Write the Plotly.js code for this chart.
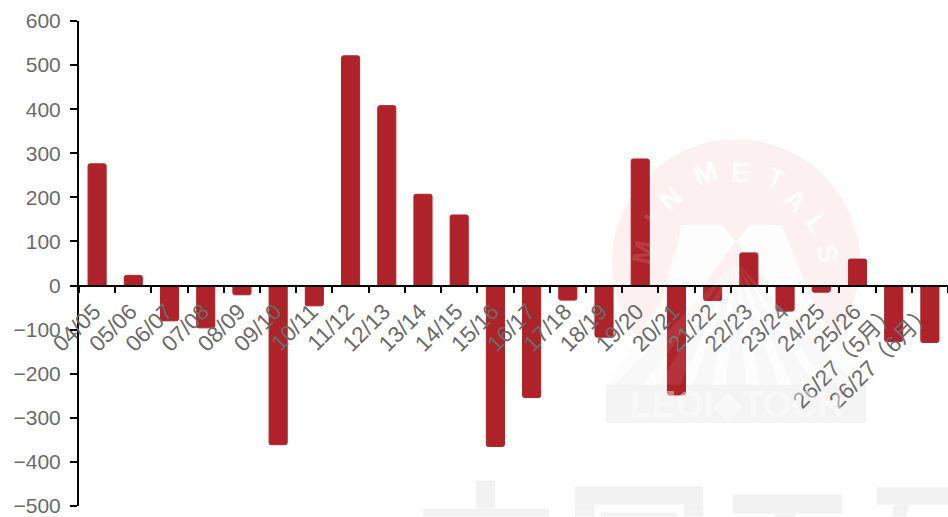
<!DOCTYPE html>
<html><head><meta charset="utf-8">
<script src="https://cdn.plot.ly/plotly-3.0.1.min.js"></script>
<style>html,body{margin:0;padding:0;background:#fff}</style></head>
<body><div id="chart" style="width:948px;height:517px"></div>
<script>
const seasons = ["04/05","05/06","06/07","07/08","08/09","09/10","10/11","11/12","12/13","13/14","14/15","15/16","16/17","17/18","18/19","19/20","20/21","21/22","22/23","23/24","24/25","25/26","26/27（5月）","26/27（6月）"];
const balance = [276,23,-80,-96,-21,-361,-46,521,408,207,160,-365,-254,-33,-117,287,-248,-34,74,-58,-15,60,-127,-129];
const yTicks = [600,500,400,300,200,100,0,-100,-200,-300,-400,-500];
const W=948,H=517,L=79,T=20.5,B=10.5;
const PW=W-L,PH=H-T-B;
const px=x=>(x-L)/PW, py=y=>(H-B-y)/PH;
const base={xref:'paper',yref:'paper',line:{width:0}};
const rect=(x0,y0,x1,y1,c,layer)=>({...base,type:'rect',x0:px(x0),x1:px(x1),y0:py(y1),y1:py(y0),fillcolor:c,layer:layer||'below'});
const poly=(pts,c,layer)=>({...base,type:'path',path:'M'+pts.map(p=>px(p[0])+' '+py(p[1])).join(' L')+' Z',fillcolor:c,layer:layer||'below'});
const pale='#f2f2f2', pink='#fcf0f0';
const rays=[[-122,-92],[-78,-56],[-42,-24],[-10,10],[24,42],[56,78],[92,122]];
const shapes=[
 {...base,type:'circle',x0:px(612),x1:px(860),y0:py(386),y1:py(139),fillcolor:pink,layer:'below'},
 poly([[606,385],[736,280],[866,385],[866,423],[606,423]],'#fbfbfb'),
 poly([[662,300],[682,225],[722,225],[736,241],[750,225],[782,225],[812,300],[866,385],[606,385]],'#fdfdfd'),
 poly([[736,241],[704,285],[768,285]],pink),
 ...rays.map(r=>poly([[736,262],[736+r[0],385],[736+r[1],385]],'#f8f8f8')),
 ...rays.map(r=>poly([[736,262],[736+r[0],385],[736+r[1],385]],'rgba(255,255,255,0.08)','above')),
 rect(606,385,866,423,'#f4f4f4'),
 rect(423,509,549,517,pale),rect(476,481,495,509,pale),
 rect(575,487,703,505,pale),rect(575,505,594,517,pale),rect(684,505,703,517,pale),rect(601,513,677,517,pale),
 rect(733,495,842,514,pale),rect(775,514,795,517,pale),
 rect(877,488,948,505,pale),poly([[894,505],[910,505],[906,517],[892,517]],pale)
];
const ring=[["M",-78,643,253],["I",-62,653,220],["N",-42,670,198],["M",-20,705,173],["E",2,740,172],["T",22,775,178],["A",40,795,200],["L",58,817,223],["S",78,828,253]];
const annotations=ring.map((r,i)=>({text:'<b>'+r[0]+'</b>',xref:'paper',yref:'paper',xanchor:'center',yanchor:'middle',x:px(r[2]),y:py(r[3]),textangle:r[1],showarrow:false,font:{family:'Liberation Sans',size:28,color:i<2?'rgba(255,255,255,0.15)':'rgba(255,255,255,0.9)'}}));
annotations.push({text:'<b>LEOI◆TOCH</b>',xref:'paper',yref:'paper',xanchor:'center',yanchor:'middle',x:px(736),y:py(405),showarrow:false,font:{family:'Liberation Sans',size:36,color:'rgba(255,255,255,0.45)'}});
Plotly.newPlot('chart',[{type:'bar',x:seasons,y:balance,marker:{color:'#ae2229',cornerradius:2,line:{color:'#ae2229',width:1}},width:0.5,hoverinfo:'x+y'}],{
 width:W,height:H,margin:{l:L,r:0,t:T,b:B},paper_bgcolor:'#fff',plot_bgcolor:'rgba(0,0,0,0)',showlegend:false,
 font:{family:'Liberation Sans, "Noto Sans CJK SC"',color:'#666'},
 xaxis:{type:'category',anchor:'free',position:500/1100,showgrid:false,zeroline:false,showline:true,linecolor:'#000',linewidth:2,ticks:'outside',ticklen:6,tickwidth:2,tickcolor:'#000',tickson:'boundaries',tickangle:-45,ticklabelstandoff:3,ticklabelshift:-3,ticklabeloverflow:'allow',tickfont:{size:22.5,color:'#6a6a6a',family:'Liberation Sans, "Noto Sans CJK SC"'},automargin:false,range:[-0.5,23.5]},
 yaxis:{range:[-500,600],tickvals:yTicks,showgrid:false,zeroline:false,showline:true,linecolor:'#000',linewidth:2,ticks:'outside',ticklen:7,tickwidth:2,tickcolor:'#000',ticklabelstandoff:5,ticklabeloverflow:'allow',tickfont:{size:21,color:'#6a6a6a'},automargin:false},
 shapes,annotations
},{staticPlot:true});
</script></body></html>
